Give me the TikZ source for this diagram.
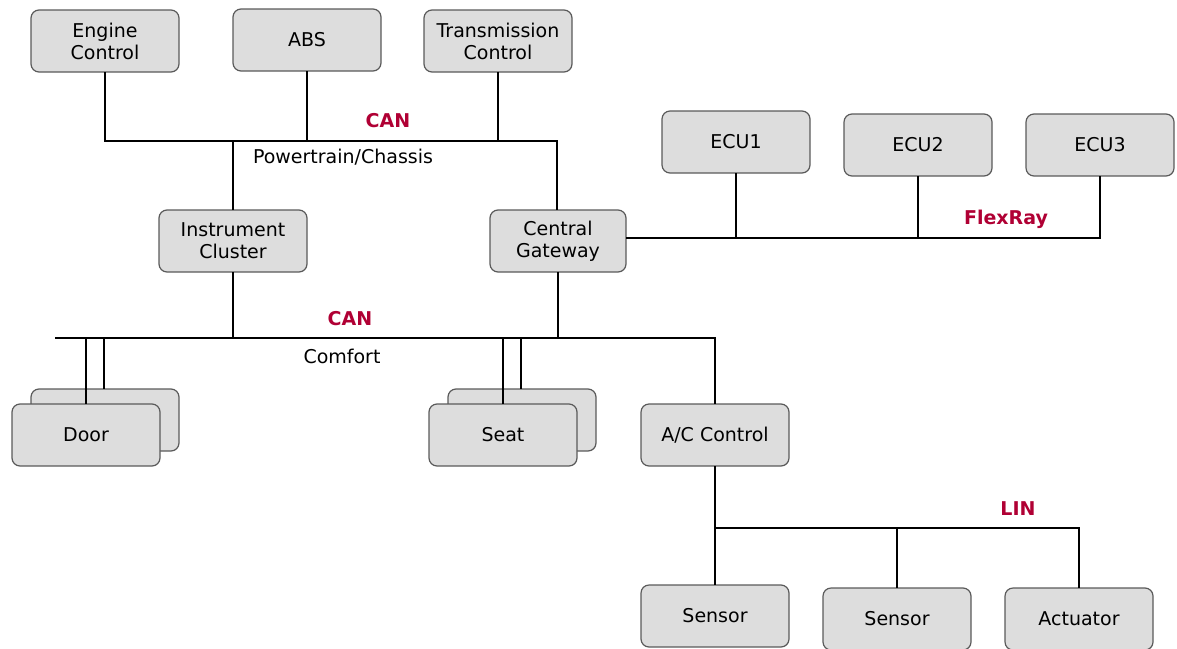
\documentclass[tikz,border=0pt]{standalone}
\usepackage{fontspec}
\setmainfont{DejaVu Sans}
\definecolor{boxfill}{RGB}{221,221,221}
\definecolor{boxline}{RGB}{90,90,90}
\definecolor{busred}{RGB}{176,0,52}
\begin{document}
\begin{tikzpicture}[x=1pt,y=-1pt,
  ecu/.style={draw=boxline,line width=1.2pt,fill=boxfill,rounded corners=8pt,
    minimum width=148pt,minimum height=62pt,align=center,inner sep=0pt,
    font=\fontsize{19}{22}\selectfont},
  bus/.style={line width=2pt,line cap=rect},
  busname/.style={text=busred,font=\fontsize{19}{22}\selectfont\bfseries},
  netname/.style={font=\fontsize{19}{22}\selectfont}]
\useasboundingbox (0,0) rectangle (1177,648);

% powertrain / chassis domain
\node[ecu] (eng) at (105,41) {Engine\\Control};
\node[ecu] (abs) at (307,40) {ABS};
\node[ecu] (tcu) at (498,41) {Transmission\\Control};
\node[ecu] (ic) at (233,241) {Instrument\\Cluster};
\node[ecu,minimum width=136pt] (gw) at (558,241) {Central\\Gateway};

% FlexRay nodes
\node[ecu] (ecu1) at (736,142) {ECU1};
\node[ecu] (ecu2) at (918,145) {ECU2};
\node[ecu] (ecu3) at (1100,145) {ECU3};

% comfort domain (doors and seats come in pairs)
\node[ecu] (doorb) at (105,420) {};
\node[ecu] (door) at (86,435) {Door};
\node[ecu] (seatb) at (522,420) {};
\node[ecu] (seat) at (503,435) {Seat};
\node[ecu] (ac) at (715,435) {A/C Control};

% LIN sub-bus
\node[ecu] (s1) at (715,616) {Sensor};
\node[ecu] (s2) at (897,619) {Sensor};
\node[ecu] (act) at (1079,619) {Actuator};

% bus corner points
\coordinate (ptR) at (557,141);
\coordinate (frR) at (1100,238);
\coordinate (cfL) at (56,338);
\coordinate (cfR) at (715,338);
\coordinate (linR) at (1079,528);

% powertrain CAN
\draw[bus] (eng.south) |- (ptR) -- (ptR |- gw.north);
\draw[bus] (abs.south) -- (abs.south |- ptR);
\draw[bus] (tcu.south) -- (tcu.south |- ptR);
\draw[bus] (ic.north) -- (ic.north |- ptR);

% FlexRay
\draw[bus] (gw.east |- frR) -- (frR) -- (ecu3.south);
\draw[bus] (ecu1.south) -- (ecu1.south |- frR);
\draw[bus] (ecu2.south) -- (ecu2.south |- frR);

% comfort CAN
\draw[bus] (cfL) -- (cfR) -- (ac.north);
\draw[bus] (ic.south) -- (ic.south |- cfR);
\draw[bus] (gw.south) -- (gw.south |- cfR);
\draw[bus] (door.north) -- (door.north |- cfR);
\draw[bus] ([xshift=-1pt]doorb.north) -- ([xshift=-1pt]doorb.north |- cfR);
\draw[bus] (seat.north) -- (seat.north |- cfR);
\draw[bus] ([xshift=-1pt]seatb.north) -- ([xshift=-1pt]seatb.north |- cfR);

% LIN
\draw[bus] (ac.south) -- (s1.north);
\draw[bus] (ac.south |- linR) -- (linR) -- (act.north);
\draw[bus] (s2.north) -- (s2.north |- linR);

% bus labels
\node[busname] (lcan1) at (388,121) {CAN};
\node[netname] (lpt) at (343,157) {Powertrain/Chassis};
\node[busname] (lfr) at (1006,219) {FlexRay};
\node[busname] (lcan2) at (350,319) {CAN};
\node[netname] (lcf) at (342,356) {Comfort};
\node[busname] (llin) at (1018,509) {LIN};
\end{tikzpicture}
\end{document}
